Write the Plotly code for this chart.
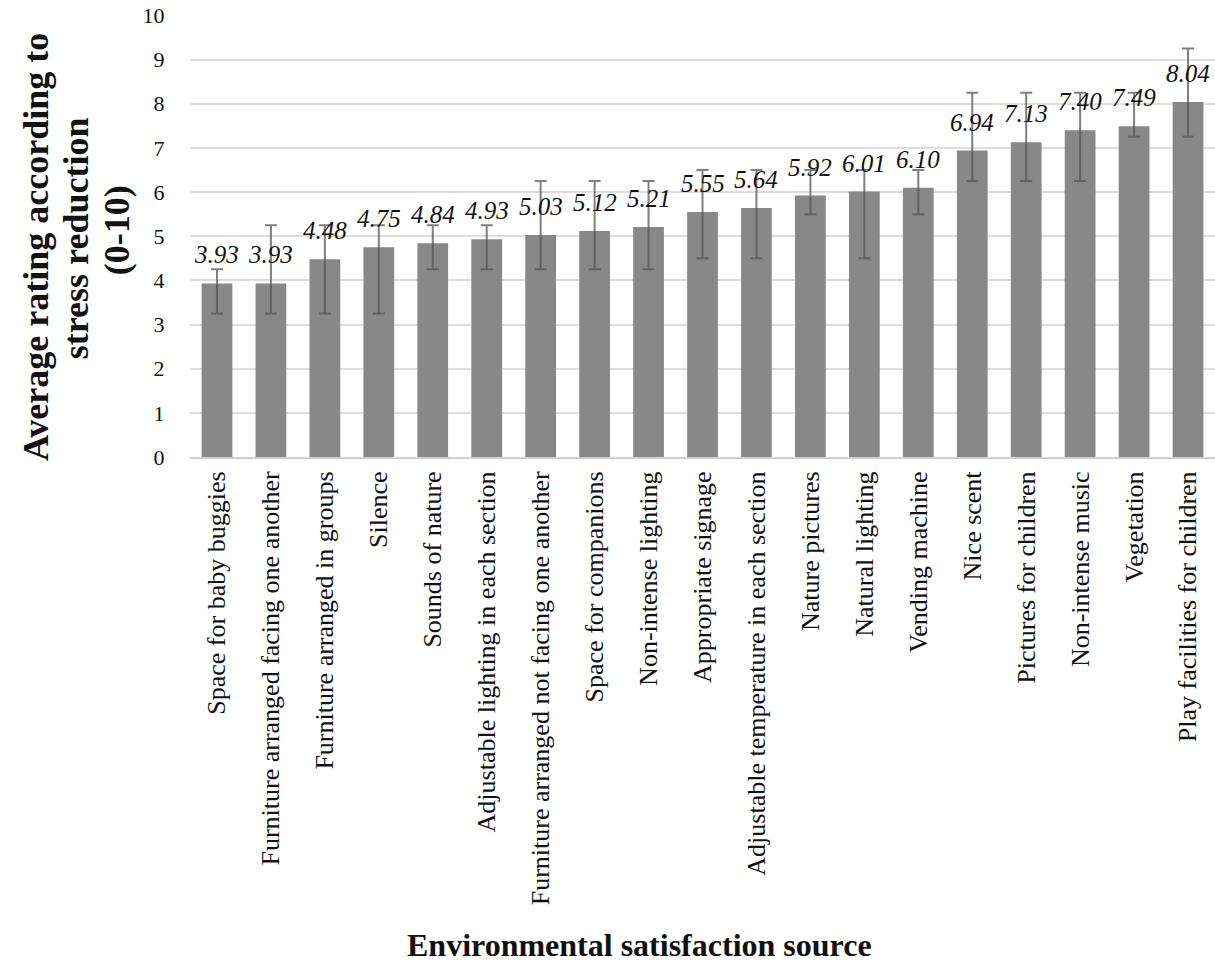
import plotly.graph_objects as go

categories = [
    "Space for baby buggies",
    "Furniture arranged facing one another",
    "Furniture arranged in groups",
    "Silence",
    "Sounds of nature",
    "Adjustable lighting in each section",
    "Furniture arranged not facing one another",
    "Space for companions",
    "Non-intense lighting",
    "Appropriate signage",
    "Adjustable temperature in each section",
    "Nature pictures",
    "Natural lighting",
    "Vending machine",
    "Nice scent",
    "Pictures for children",
    "Non-intense music",
    "Vegetation",
    "Play facilities for children",
]
means = [3.93, 3.93, 4.48, 4.75, 4.84, 4.93, 5.03, 5.12, 5.21, 5.55,
         5.64, 5.92, 6.01, 6.10, 6.94, 7.13, 7.40, 7.49, 8.04]
upper = [4.25, 5.25, 5.25, 5.25, 5.25, 5.25, 6.25, 6.25, 6.25, 6.5,
         6.5, 6.5, 6.5, 6.5, 8.25, 8.25, 8.25, 8.25, 9.25]
lower = [3.25, 3.25, 3.25, 3.25, 4.25, 4.25, 4.25, 4.25, 4.25, 4.5,
         4.5, 5.5, 4.5, 5.5, 6.25, 6.25, 6.25, 7.25, 7.25]
y_title_lines = ["Average rating according to", "stress reduction", "(0-10)"]
x_title = "Environmental satisfaction source"

err_plus = [u - m for u, m in zip(upper, means)]
err_minus = [m - l for m, l in zip(means, lower)]

SERIF = "Liberation Serif, Times New Roman, serif"

fig = go.Figure(go.Bar(
    x=categories,
    y=means,
    marker=dict(color="#888888", line=dict(width=0)),
    width=0.57,
    cliponaxis=False,
    error_y=dict(type="data", symmetric=False, array=err_plus,
                 arrayminus=err_minus, color="rgba(85,85,85,0.75)",
                 thickness=2, width=6),
))

annotations = []
# value labels above each bar
for c, v in zip(categories, means):
    annotations.append(dict(
        x=c, y=v, xref="x", yref="y", text=f"{v:.2f}",
        showarrow=False, xanchor="center", yanchor="bottom", yshift=13,
        font=dict(family=SERIF, size=25, color="#111111", style="italic"),
    ))
# x axis title
annotations.append(dict(
    text=f"<b>{x_title}</b>",
    xref="paper", yref="paper", x=0.439, y=-1.104,
    xanchor="center", yanchor="middle", showarrow=False,
    font=dict(family=SERIF, size=32, color="#111111"),
))
# y axis title (three lines)
for line, xs, yp in zip(y_title_lines, [-154, -114, -73], [0.475, 0.495, 0.513]):
    annotations.append(dict(
        text=f"<b>{line}</b>", textangle=-90,
        xref="paper", yref="paper", x=0, y=yp, xshift=xs,
        xanchor="center", yanchor="middle", showarrow=False,
        font=dict(family=SERIF, size=36, color="#111111"),
    ))

fig.update_layout(
    width=1215, height=966,
    margin=dict(l=190, r=0, t=15, b=509),
    plot_bgcolor="white", paper_bgcolor="white",
    showlegend=False,
    bargap=0.43,
    font=dict(family=SERIF, color="#111111"),
    annotations=annotations,
)
fig.update_xaxes(
    tickangle=-90, automargin=False,
    tickfont=dict(family=SERIF, size=26, color="#111111"),
    showline=True, linecolor="#d0d0d0", linewidth=2,
    ticks="outside", tickcolor="white", ticklen=2,
)
fig.update_yaxes(
    range=[0, 10.01], tickvals=list(range(0, 11)), automargin=False,
    tickfont=dict(family=SERIF, size=22, color="#111111"),
    showgrid=True, gridcolor="#dedede", gridwidth=1.5,
    zeroline=False, ticklabeloverflow="allow",
    ticks="outside", tickcolor="white", ticklen=20,
)

fig.write_html("out.html",
               config={"displayModeBar": False},
               post_script="document.body.style.margin='0';document.body.style.overflow='hidden';")
